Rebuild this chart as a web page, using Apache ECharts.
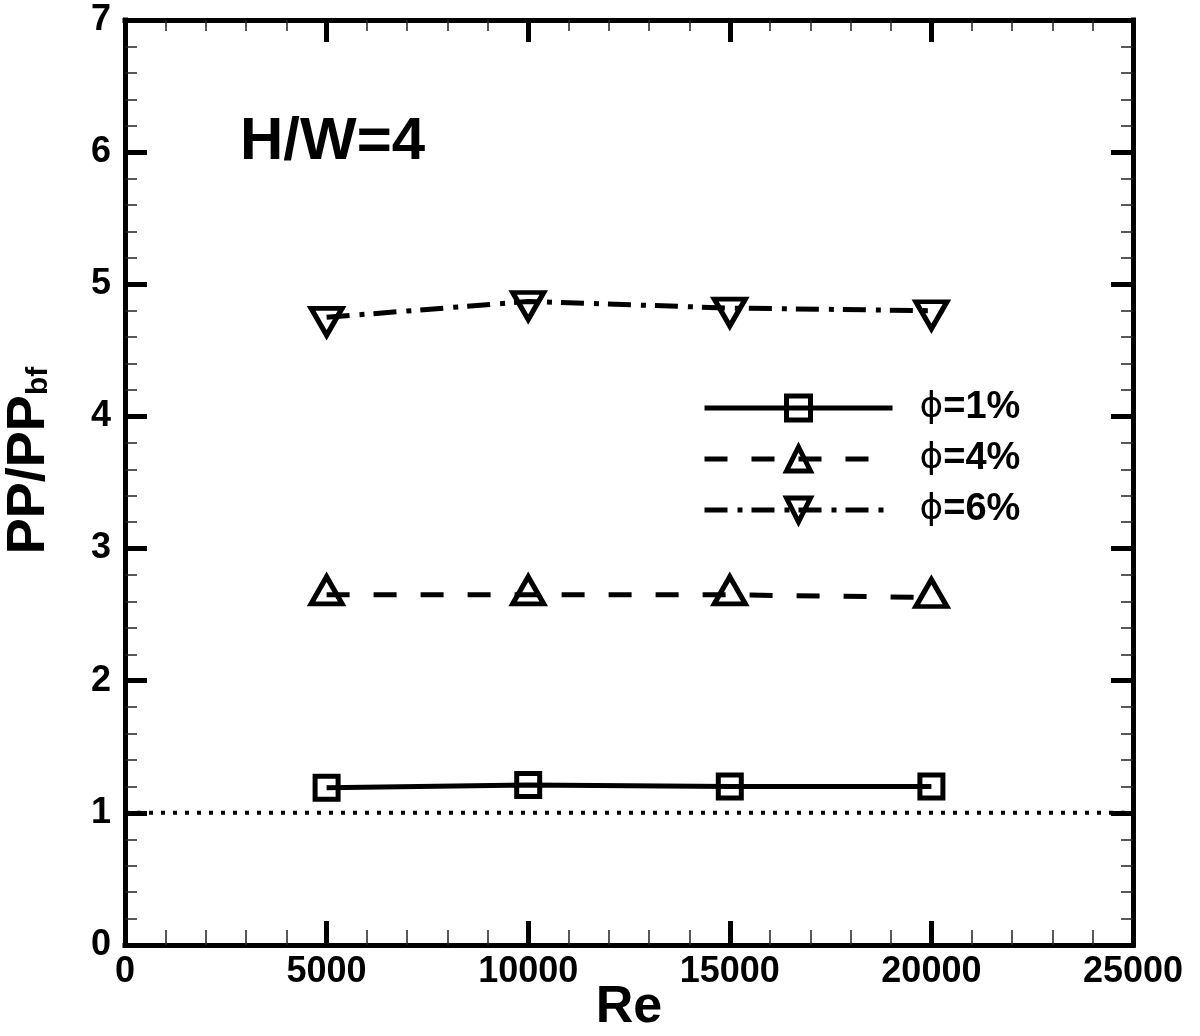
<!DOCTYPE html>
<html>
<head>
<meta charset="utf-8">
<script src="https://cdn.jsdelivr.net/npm/echarts@6/dist/echarts.min.js"></script>
<style>
html,body{margin:0;padding:0;background:#fff;}
#chart{width:1200px;height:1036px;}
</style>
</head>
<body>
<div id="chart"></div>
<script>
// ---- data ----
var reValues = [5000, 10000, 15000, 20000];
var phi1 = [1.19, 1.21, 1.20, 1.20];
var phi4 = [2.65, 2.65, 2.65, 2.63];
var phi6 = [4.75, 4.87, 4.82, 4.80];
var refX = [0, 25000];
var refY = [1, 1];
var seriesNames = ['ϕ=1%', 'ϕ=4%', 'ϕ=6%'];
var xTicks = [0, 5000, 10000, 15000, 20000, 25000];
var yTicks = [0, 1, 2, 3, 4, 5, 6, 7];
var annotation = 'H/W=4';
var xTitle = 'Re';
var yTitleMain = 'PP/PP';
var yTitleSub = 'bf';

function zip(xs, ys) { return xs.map(function (x, i) { return [x, ys[i]]; }); }

var FONT = "'Liberation Sans', Arial, Helvetica, sans-serif";
var chart = echarts.init(document.getElementById('chart'), null, {renderer: 'canvas'});

function axisCommon(majorLen, minorLen) {
  return {
    axisLine: {show: true, onZero: false, lineStyle: {color: '#000', width: 5, cap: 'square'}},
    axisTick: {show: true, inside: true, length: majorLen, lineStyle: {color: '#000', width: 5}},
    minorTick: {show: true, splitNumber: 5, length: minorLen, lineStyle: {color: '#222', width: 1.5}},
    splitLine: {show: false},
    minorSplitLine: {show: false}
  };
}

var xMin = xTicks[0], xMax = xTicks[xTicks.length - 1], xInt = xTicks[1] - xTicks[0];
var yMin = yTicks[0], yMax = yTicks[yTicks.length - 1], yInt = yTicks[1] - yTicks[0];

var markerBase = {color: 'rgba(0,0,0,0)', borderColor: '#000', borderWidth: 5};
var plainFmt = function (v) { return String(v); };

var option = {
  backgroundColor: '#fff',
  animation: false,
  grid: {left: 125, right: 67, top: 20, bottom: 91, containLabel: false, outerBoundsMode: 'none'},
  xAxis: [
    Object.assign({
      type: 'value', position: 'bottom', min: xMin, max: xMax, interval: xInt,
      name: xTitle, nameLocation: 'middle', nameGap: 37, nameMoveOverlap: false,
      nameTextStyle: {fontFamily: FONT, fontWeight: 'bold', fontSize: 52, color: '#000'},
      axisLabel: {show: true, margin: 9, formatter: plainFmt, fontFamily: FONT, fontWeight: 'bold', fontSize: 36, color: '#000'}
    }, axisCommon(24, 15)),
    Object.assign({
      type: 'value', position: 'top', min: xMin, max: xMax, interval: xInt,
      axisLabel: {show: false}
    }, axisCommon(22, 11))
  ],
  yAxis: [
    Object.assign({
      type: 'value', position: 'left', min: yMin, max: yMax, interval: yInt,
      name: '{a|' + yTitleMain + '}{b|' + yTitleSub + '}', nameLocation: 'middle', nameRotate: 90, nameGap: 66,
      nameTextStyle: {
        color: '#000',
        padding: [0, 0, 0, 44],
        rich: {
          a: {fontFamily: FONT, fontWeight: 'bold', fontSize: 54, color: '#000', lineHeight: 60},
          b: {fontFamily: FONT, fontWeight: 'bold', fontSize: 30, color: '#000', lineHeight: 60, verticalAlign: 'bottom', padding: [0, 0, 5, 0]}
        }
      },
      axisLabel: {show: true, margin: 14, formatter: plainFmt, fontFamily: FONT, fontWeight: 'bold', fontSize: 36, color: '#000'}
    }, axisCommon(22, 12)),
    Object.assign({
      type: 'value', position: 'right', min: yMin, max: yMax, interval: yInt,
      axisLabel: {show: false}
    }, axisCommon(22, 12))
  ],
  legend: {
    show: true,
    data: seriesNames,
    orient: 'vertical',
    left: 697, top: 384,
    itemWidth: 188, itemHeight: 30, itemGap: 13,
    selectedMode: false,
    lineStyle: {width: 5, color: '#000'},
    itemStyle: {borderWidth: 5, borderColor: '#000', color: 'rgba(0,0,0,0)'},
    textStyle: {
      color: '#000',
      rich: {
        p: {fontFamily: "'DejaVu Sans', sans-serif", fontWeight: 'normal', fontSize: 36, color: '#000', lineHeight: 30, padding: [0, 0, 0, 22]},
        t: {fontFamily: FONT, fontWeight: 'bold', fontSize: 38, color: '#000', lineHeight: 30}
      }
    },
    formatter: function (name) { return '{p|' + name.charAt(0) + '}{t|' + name.slice(1) + '}'; }
  },
  graphic: [{
    type: 'text', left: 240, top: 112,
    style: {text: annotation, fontFamily: FONT, fontWeight: 'bold', fontSize: 60, fill: '#000'}
  }],
  series: [
    {
      name: 'ref', type: 'line', data: zip(refX, refY), symbol: 'none', silent: true,
      lineStyle: {color: '#000', width: 4, type: [4, 8]}, z: 1
    },
    {
      name: seriesNames[0], type: 'line', data: zip(reValues, phi1),
      symbol: 'rect', symbolSize: 23,
      itemStyle: markerBase,
      lineStyle: {color: '#000', width: 5, type: 'solid'}, z: 3
    },
    {
      name: seriesNames[1], type: 'line', data: zip(reValues, phi4),
      symbol: 'triangle', symbolSize: [31, 27], symbolOffset: [0, -4.5],
      itemStyle: markerBase,
      lineStyle: {color: '#000', width: 5, type: [23, 24]}, z: 3
    },
    {
      name: seriesNames[2], type: 'line', data: zip(reValues, phi6),
      symbol: 'triangle', symbolRotate: 180, symbolSize: [31, 27], symbolOffset: [0, 4.5],
      itemStyle: markerBase,
      lineStyle: {color: '#000', width: 5, type: [23, 10, 5, 9]}, z: 3
    }
  ]
};
chart.setOption(option);
</script>
</body>
</html>
